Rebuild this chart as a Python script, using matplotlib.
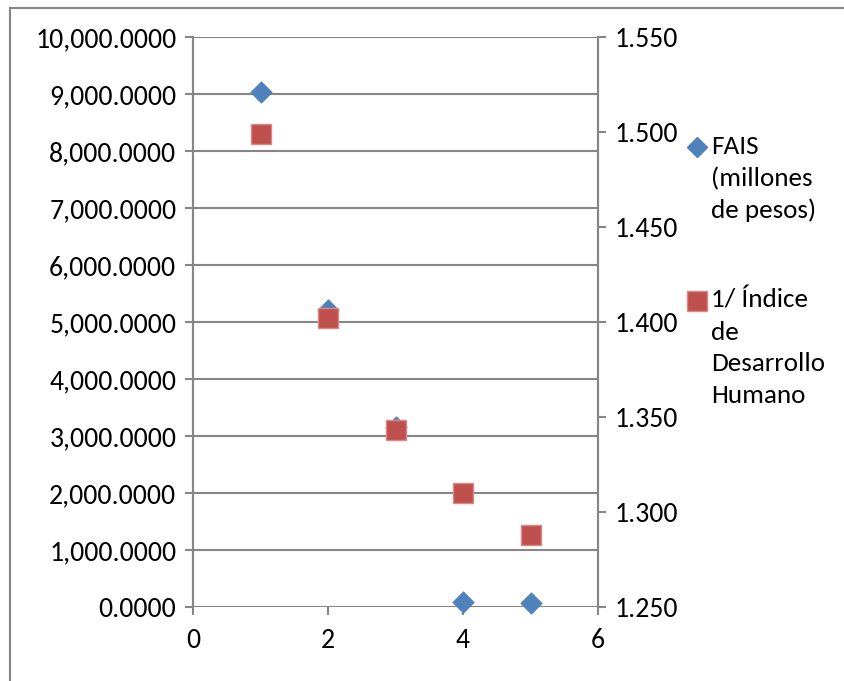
import matplotlib
matplotlib.use("Agg")
import matplotlib.pyplot as plt
from matplotlib.lines import Line2D
from matplotlib.ticker import FuncFormatter, MultipleLocator

plt.rcParams['font.family'] = ['Carlito', 'Liberation Sans Narrow', 'DejaVu Sans']

# Data
x_vals = [1, 2, 3, 4, 5]
fais = [9030, 5210, 3165, 82, 78]            # millones de pesos (left axis)
idh_inv = [1.499, 1.402, 1.343, 1.310, 1.288]  # 1 / Índice de Desarrollo Humano (right axis)
labels = ["FAIS\n(millones\nde pesos)", "1/ Índice\nde\nDesarrollo\nHumano"]

blue = "#4F81BD"
red = "#C0504D"
grid_c = "#868686"
W, H = 845, 681
FS = 20

fig = plt.figure(figsize=(W / 100, H / 100), dpi=100)
ax = fig.add_axes([193 / W, (H - 607) / H, (598 - 193) / W, (607 - 37) / H])
ax2 = ax.twinx()

ax.set_xlim(0, 6)
ax.set_ylim(0, 10000)
ax2.set_ylim(1.25, 1.55)
ax.xaxis.set_major_locator(MultipleLocator(2))
ax.yaxis.set_major_locator(MultipleLocator(1000))
ax2.yaxis.set_major_locator(MultipleLocator(0.05))
ax.yaxis.set_major_formatter(FuncFormatter(lambda v, p: f"{v:,.4f}"))
ax2.yaxis.set_major_formatter(FuncFormatter(lambda v, p: f"{v:.3f}"))

ax.grid(axis='y', color=grid_c, linewidth=1.5)
ax.set_axisbelow(True)
for a in (ax, ax2):
    for s in ('top', 'bottom'):
        a.spines[s].set_visible(False)
    for s in ('left', 'right'):
        a.spines[s].set_color(grid_c)
        a.spines[s].set_linewidth(1.5)
ax.tick_params(axis='both', colors=grid_c, labelcolor='black', labelsize=FS,
               length=6, width=1.5, pad=6)
ax2.tick_params(axis='y', colors=grid_c, labelcolor='black', labelsize=FS,
                length=6, width=1.5, pad=6)
ax.tick_params(axis='x', pad=9)

ax.scatter(x_vals, fais, marker='D', s=120, color=blue, edgecolors=blue,
           linewidths=0.5, zorder=3, clip_on=False)
ax2.scatter(x_vals, idh_inv, marker='s', s=200, color=red, edgecolors="#D98A88",
            linewidths=1, zorder=3, clip_on=False)

# Legend drawn on the right of the plot
def fx(px):
    return px / W

def fy(py):
    return 1 - py / H

fig.add_artist(Line2D([fx(697)], [fy(147)], marker='D', markersize=10,
                      color=blue, transform=fig.transFigure))
fig.add_artist(Line2D([fx(697)], [fy(301)], marker='s', markersize=14,
                      color=red, markeredgecolor="#D98A88", transform=fig.transFigure))
fig.text(fx(711), fy(135), labels[0], fontsize=19.5, va='top', ha='left',
         linespacing=1.45)
fig.text(fx(711), fy(289), labels[1], fontsize=19.5, va='top', ha='left',
         linespacing=1.45)

# Outer chart frame
fig.add_artist(Line2D([fx(10), 1], [fy(8), fy(8)], color=grid_c, linewidth=1.5,
                      transform=fig.transFigure))
fig.add_artist(Line2D([fx(10), fx(10)], [fy(8), 0], color=grid_c, linewidth=1.5,
                      transform=fig.transFigure))

fig.savefig("out.png", dpi=100, facecolor='white')
